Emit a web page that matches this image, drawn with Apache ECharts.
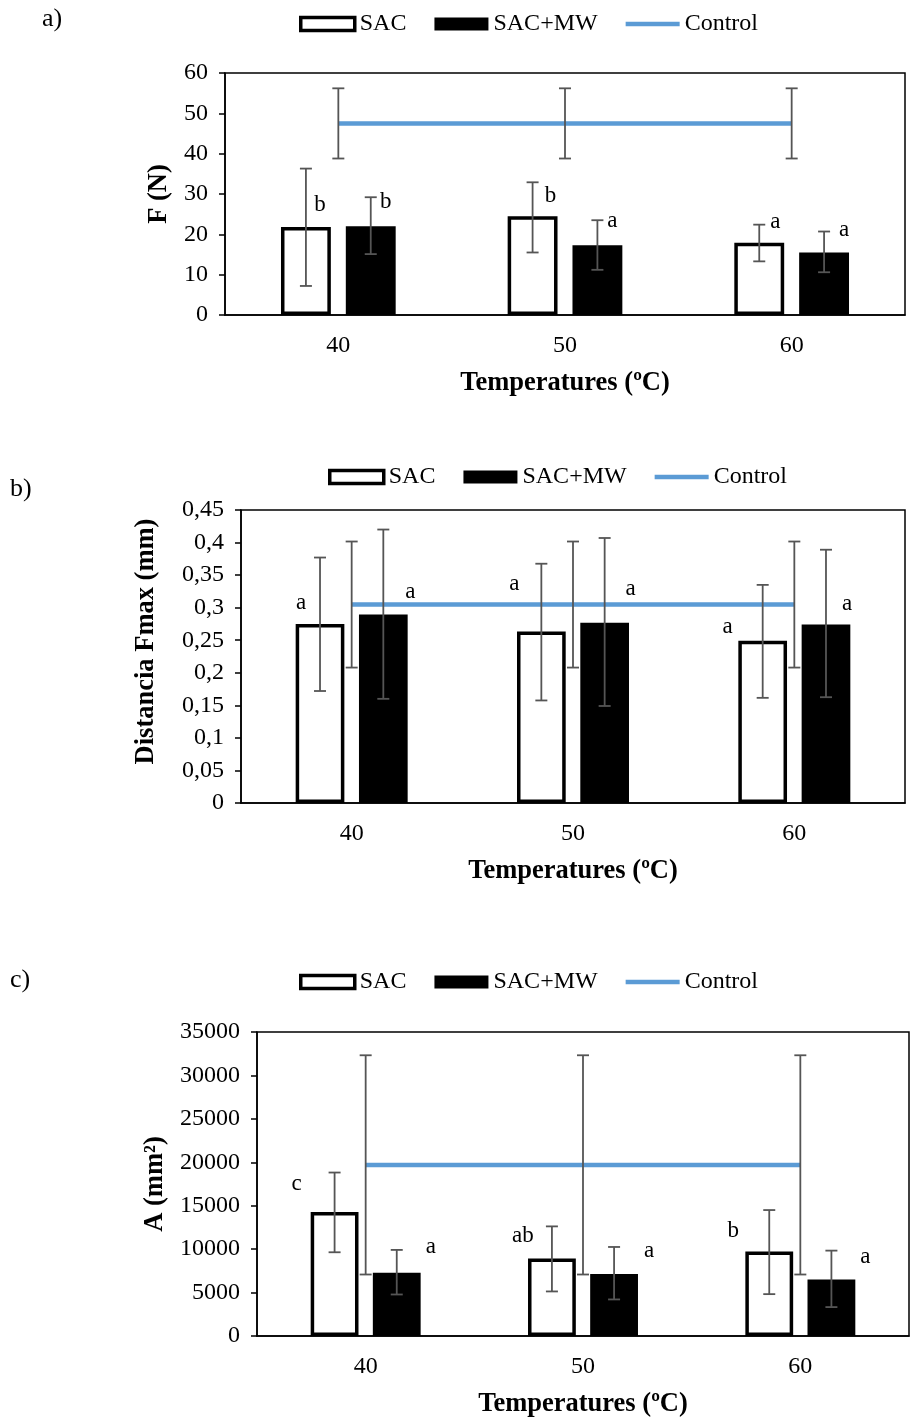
<!DOCTYPE html>
<html><head><meta charset="utf-8">
<script src="https://cdn.jsdelivr.net/npm/echarts@6/dist/echarts.min.js"></script>
<style>html,body{margin:0;padding:0;background:#fff}#c{width:912px;height:1419px}</style>
</head><body><div id="c"></div>
<script>
// ---------- DATA ----------
const categories = ['40', '50', '60'];
const seriesNames = ['SAC', 'SAC+MW', 'Control'];

// a) Force F (N)
const fSAC = [21.8, 24.5, 17.9];
const fSACLow = [7.2, 15.5, 13.3];
const fSACHigh = [36.3, 32.9, 22.4];
const fMW = [22.0, 17.3, 15.5];
const fMWLow = [15.1, 11.2, 10.6];
const fMWHigh = [29.2, 23.5, 20.7];
const fControl = [47.5, 47.5, 47.5];
const fControlLow = [38.8, 38.8, 38.8];
const fControlHigh = [56.2, 56.2, 56.2];
const fLettersSAC = ['b', 'b', 'a'];
const fLettersSACY = [27.4, 29.5, 23.1];
const fLettersMW = ['b', 'a', 'a'];
const fLettersMWY = [28.0, 23.2, 21.2];

// b) Distancia Fmax (mm)
const dSAC = [0.275, 0.2635, 0.249];
const dSACLow = [0.172, 0.1575, 0.1615];
const dSACHigh = [0.377, 0.3675, 0.335];
const dMW = [0.2895, 0.277, 0.274];
const dMWLow = [0.160, 0.149, 0.1625];
const dMWHigh = [0.420, 0.407, 0.389];
const dControl = [0.305, 0.305, 0.305];
const dControlLow = [0.208, 0.208, 0.208];
const dControlHigh = [0.4016, 0.4016, 0.4016];
const dLettersSAC = ['a', 'a', 'a'];
const dLettersSACY = [0.308, 0.337, 0.270];
const dLettersMW = ['a', 'a', 'a'];
const dLettersMWY = [0.324, 0.328, 0.305];

// c) A (mm2)
const aSAC = [14270, 8910, 9720];
const aSACLow = [9640, 5130, 4820];
const aSACHigh = [18820, 12620, 14500];
const aMW = [7270, 7150, 6500];
const aMWLow = [4780, 4210, 3330];
const aMWHigh = [9910, 10250, 9830];
const aControl = [19700, 19700, 19700];
const aControlLow = [7080, 7080, 7080];
const aControlHigh = [32320, 32320, 32320];
const aLettersSAC = ['c', 'ab', 'b'];
const aLettersSACY = [17480, 11550, 12130];
const aLettersMW = ['a', 'a', 'a'];
const aLettersMWY = [10210, 9830, 9070];

// ---------- STYLE / LAYOUT ----------
const FONT = 'Liberation Serif';
const BAR_W = 0.22, BAR_GAP = 0.30;
const ERR_COLOR = '#555555';
const CTRL_COLOR = '#5B9BD5';
const TICK_FS = 24, NAME_FS = 26.5, LEG_FS = 24, LET_FS = 23;

const panels = [
  { tag: 'a)', tagPos: [42, 6], grid: { left: 225, top: 73, right: 7, height: 242 },
    ymax: 60, yint: 10, yname: 'F (N)', ynameGap: 52, ynamePad: [0, 0, 0, 0], fmt: v => String(v),
    legendLeft: 294, legendTop: 7,
    sac: fSAC, sacLo: fSACLow, sacHi: fSACHigh, mw: fMW, mwLo: fMWLow, mwHi: fMWHigh,
    ctl: fControl, ctlLo: fControlLow, ctlHi: fControlHigh,
    lS: fLettersSAC, lSY: fLettersSACY, lM: fLettersMW, lMY: fLettersMWY,
    dxS: [14, 18, 16], dxM: [15, 15, 20] },
  { tag: 'b)', tagPos: [10, 476], grid: { left: 241, top: 510, right: 7, height: 293 },
    ymax: 0.45, yint: 0.05, yname: 'Distancia Fmax (mm)', ynameGap: 81, ynamePad: [0, 0, 0, 30],
    fmt: v => String(+(+v).toFixed(2)).replace('.', ','),
    legendLeft: 323, legendTop: 460,
    sac: dSAC, sacLo: dSACLow, sacHi: dSACHigh, mw: dMW, mwLo: dMWLow, mwHi: dMWHigh,
    ctl: dControl, ctlLo: dControlLow, ctlHi: dControlHigh,
    lS: dLettersSAC, lSY: dLettersSACY, lM: dLettersMW, lMY: dLettersMWY,
    dxS: [-19, -27, -35], dxM: [27, 26, 21] },
  { tag: 'c)', tagPos: [10, 967], grid: { left: 257, top: 1032, right: 3, height: 304 },
    ymax: 35000, yint: 5000, yname: 'A (mm²)', ynameGap: 87, ynamePad: [0, 0, 0, 0], fmt: v => String(v),
    legendLeft: 294, legendTop: 965,
    sac: aSAC, sacLo: aSACLow, sacHi: aSACHigh, mw: aMW, mwLo: aMWLow, mwHi: aMWHigh,
    ctl: aControl, ctlLo: aControlLow, ctlHi: aControlHigh,
    lS: aLettersSAC, lSY: aLettersSACY, lM: aLettersMW, lMY: aLettersMWY,
    dxS: [-38, -29, -36], dxM: [34, 35, 34] }
];

function barOffset(api, sign) {
  const band = api.size([1, 0])[0];
  const bw = band * BAR_W;
  return sign * (bw + bw * BAR_GAP) / 2;
}

function errRender(sign) {
  return function (params, api) {
    const x = api.value(0);
    const pLo = api.coord([x, api.value(1)]);
    const pHi = api.coord([x, api.value(2)]);
    const cx = pLo[0] + (sign === 0 ? 0 : barOffset(api, sign));
    const cap = 6;
    const st = { stroke: ERR_COLOR, lineWidth: 1.8 };
    return { type: 'group', children: [
      { type: 'line', shape: { x1: cx, y1: pLo[1], x2: cx, y2: pHi[1] }, style: st },
      { type: 'line', shape: { x1: cx - cap, y1: pLo[1], x2: cx + cap, y2: pLo[1] }, style: st },
      { type: 'line', shape: { x1: cx - cap, y1: pHi[1], x2: cx + cap, y2: pHi[1] }, style: st }
    ] };
  };
}

function letterRender(sign, letters, dx) {
  return function (params, api) {
    const x = api.value(0);
    const p = api.coord([x, api.value(1)]);
    return { type: 'text', x: p[0] + barOffset(api, sign) + dx[params.dataIndex], y: p[1],
      style: { text: letters[params.dataIndex], fill: '#000', font: LET_FS + 'px "' + FONT + '"',
        align: 'center', verticalAlign: 'middle' } };
  };
}

const grid = [], xAxis = [], yAxis = [], series = [], legend = [], graphic = [];
panels.forEach((p, i) => {
  grid.push(Object.assign({ show: true, borderColor: '#000', borderWidth: 1.5, backgroundColor: 'transparent' }, p.grid));
  xAxis.push({ type: 'category', gridIndex: i, data: categories,
    axisLine: { lineStyle: { color: '#000', width: 1.5 } }, axisTick: { show: false },
    axisLabel: { color: '#000', fontFamily: FONT, fontSize: TICK_FS, margin: 19 },
    name: 'Temperatures (ºC)', nameLocation: 'middle', nameGap: 55,
    nameTextStyle: { color: '#000', fontFamily: FONT, fontSize: NAME_FS, fontWeight: 'bold' } });
  yAxis.push({ type: 'value', gridIndex: i, min: 0, max: p.ymax, interval: p.yint,
    axisLine: { show: true, lineStyle: { color: '#000', width: 1.5 } },
    axisTick: { show: true, length: 6, lineStyle: { color: '#000', width: 1.5 } },
    splitLine: { show: false },
    axisLabel: { color: '#000', fontFamily: FONT, fontSize: TICK_FS, margin: 17, formatter: p.fmt },
    name: p.yname, nameLocation: 'middle', nameGap: p.ynameGap, nameRotate: 90,
    nameTextStyle: { color: '#000', fontFamily: FONT, fontSize: NAME_FS, fontWeight: 'bold', padding: p.ynamePad } });

  series.push({ name: 'SAC', type: 'bar', xAxisIndex: i, yAxisIndex: i, data: p.sac,
    barWidth: (BAR_W * 100) + '%', barGap: (BAR_GAP * 100) + '%',
    itemStyle: { color: '#fff', borderColor: '#000', borderWidth: 3.5 }, emphasis: { disabled: true } });
  series.push({ name: 'SAC+MW', type: 'bar', xAxisIndex: i, yAxisIndex: i, data: p.mw,
    barWidth: (BAR_W * 100) + '%', barGap: (BAR_GAP * 100) + '%',
    itemStyle: { color: '#000' }, emphasis: { disabled: true } });
  series.push({ name: 'Control', type: 'line', xAxisIndex: i, yAxisIndex: i, data: p.ctl,
    symbol: 'none', lineStyle: { color: CTRL_COLOR, width: 4.5 }, itemStyle: { color: CTRL_COLOR },
    z: 3, emphasis: { disabled: true } });

  const errs = [[p.sacLo, p.sacHi, -1], [p.mwLo, p.mwHi, 1], [p.ctlLo, p.ctlHi, 0]];
  errs.forEach(([lo, hi, sign]) => {
    series.push({ type: 'custom', xAxisIndex: i, yAxisIndex: i, z: 4,
      renderItem: errRender(sign), encode: { x: 0, y: [1, 2] },
      data: categories.map((c, k) => [k, lo[k], hi[k]]), silent: true });
  });
  series.push({ type: 'custom', xAxisIndex: i, yAxisIndex: i, z: 5,
    renderItem: letterRender(-1, p.lS, p.dxS), encode: { x: 0, y: 1 },
    data: categories.map((c, k) => [k, p.lSY[k]]), silent: true });
  series.push({ type: 'custom', xAxisIndex: i, yAxisIndex: i, z: 5,
    renderItem: letterRender(1, p.lM, p.dxM), encode: { x: 0, y: 1 },
    data: categories.map((c, k) => [k, p.lMY[k]]), silent: true });

  legend.push({ left: p.legendLeft, top: p.legendTop, itemWidth: 54, itemHeight: 13, itemGap: 28,
    symbolKeepAspect: true,
    selectedMode: false, textStyle: { color: '#000', fontFamily: FONT, fontSize: LEG_FS },
    data: [
      { name: 'SAC', icon: 'rect', itemStyle: { color: '#fff', borderColor: '#000', borderWidth: 3.5 } },
      { name: 'SAC+MW', icon: 'rect', itemStyle: { color: '#000', borderWidth: 0 } },
      { name: 'Control', icon: 'path://M0,0 L54,0 L54,4.5 L0,4.5 Z', itemStyle: { color: CTRL_COLOR, borderWidth: 0 } }
    ] });
  graphic.push({ type: 'text', left: p.tagPos[0], top: p.tagPos[1],
    style: { text: p.tag, fill: '#000', font: '26px "' + FONT + '"' } });
});

const chart = echarts.init(document.getElementById('c'), null, { renderer: 'canvas' });
chart.setOption({ animation: false, backgroundColor: '#fff', grid, xAxis, yAxis, series, legend, graphic });
</script>
</body></html>
